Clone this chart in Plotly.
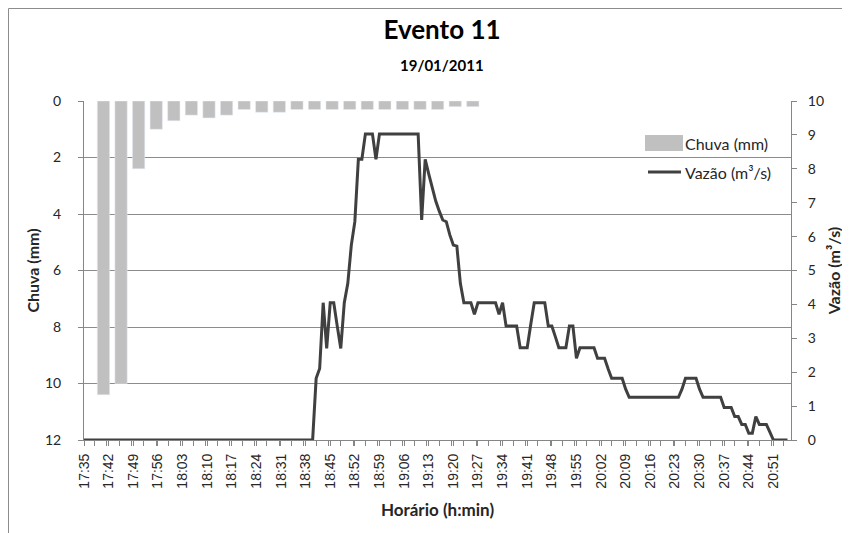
"""Evento 11 - chuva e vazão (19/01/2011)."""

import pandas as pd
import plotly.graph_objects as go

DAY = "2011-01-19"

# chuva em intervalos de 5 minutos (mm)
RAIN_TIMES = [
    "17:40", "17:45", "17:50", "17:55", "18:00", "18:05", "18:10", "18:15",
    "18:20", "18:25", "18:30", "18:35", "18:40", "18:45", "18:50", "18:55",
    "19:00", "19:05", "19:10", "19:15", "19:20", "19:25",
]
RAIN_MM = [
    10.4, 10.0, 2.4, 1.0, 0.7, 0.5, 0.6, 0.5, 0.3, 0.4, 0.4,
    0.3, 0.3, 0.3, 0.3, 0.3, 0.3, 0.3, 0.3, 0.3, 0.2, 0.2,
]

# vazão minuto a minuto a partir de 17:35 (m³/s)
FLOW_START = "17:35"
FLOW_M3S = [
    # 17:35 - 18:40
    0, 0, 0, 0, 0, 0, 0, 0, 0, 0, 0, 0, 0, 0, 0, 0, 0, 0, 0, 0, 0, 0,
    0, 0, 0, 0, 0, 0, 0, 0, 0, 0, 0, 0, 0, 0, 0, 0, 0, 0, 0, 0, 0, 0,
    0, 0, 0, 0, 0, 0, 0, 0, 0, 0, 0, 0, 0, 0, 0, 0, 0, 0, 0, 0, 0, 0,
    # 18:41 -
    1.82, 2.11, 4.05, 2.70, 4.05, 4.05, 3.36, 2.70, 4.05, 4.62,
    5.75, 6.44, 8.28, 8.28, 9.03, 9.03, 9.03, 8.28, 9.03, 9.03,
    9.03, 9.03, 9.03, 9.03, 9.03, 9.03, 9.03, 9.03, 9.03, 9.03,
    6.49, 8.28, 7.85, 7.45, 7.05, 6.75, 6.49, 6.44, 6.05, 5.75,
    5.72, 4.62, 4.05, 4.05, 4.05, 3.71, 4.05, 4.05, 4.05, 4.05,
    4.05, 4.05, 3.71, 4.05, 3.36, 3.36, 3.36, 3.36, 2.72, 2.72,
    2.72, 3.40, 4.05, 4.05, 4.05, 4.05, 3.36, 3.36, 3.05, 2.72,
    2.72, 2.72, 3.36, 3.36, 2.41, 2.72, 2.72, 2.72, 2.72, 2.72,
    2.41, 2.41, 2.41, 2.10, 1.82, 1.82, 1.82, 1.82, 1.50, 1.26,
    1.26, 1.26, 1.26, 1.26, 1.26, 1.26, 1.26, 1.26, 1.26, 1.26,
    1.26, 1.26, 1.26, 1.26, 1.50, 1.82, 1.82, 1.82, 1.82, 1.50,
    1.26, 1.26, 1.26, 1.26, 1.26, 1.26, 0.96, 0.96, 0.96, 0.69,
    0.69, 0.46, 0.46, 0.20, 0.20, 0.69, 0.46, 0.46, 0.46, 0.23,
    0, 0, 0, 0, 0,
]

FONT = "Lato, 'Noto Sans', sans-serif"
AXIS_GRAY = "#868686"
TEXT = "#262626"

# a página tem margem de 8 px; a figura começa em (8, 8)
W, H = 842, 525

rain_x = [f"{DAY} {t}" for t in RAIN_TIMES]
flow_x = pd.date_range(f"{DAY} {FLOW_START}", periods=len(FLOW_M3S), freq="min")

fig = go.Figure()
fig.add_bar(
    x=rain_x,
    y=RAIN_MM,
    name="Chuva (mm)",
    marker_color="#c0c0c0",
    width=210000,
    offset=-73000,
    showlegend=False,
)
fig.add_scatter(
    x=flow_x,
    y=FLOW_M3S,
    name="Vazão (m³/s)",
    yaxis="y2",
    mode="lines",
    line={"color": "#404040", "width": 3},
    showlegend=False,
)

fig.update_layout(
    width=W,
    height=H,
    margin={"l": 76, "r": 59, "t": 93, "b": 93},
    paper_bgcolor="white",
    plot_bgcolor="white",
    font={"family": FONT, "color": TEXT, "size": 13},
    title={
        "text": "<b>Evento 11</b>",
        "font": {"size": 26, "color": "black"},
        "x": 434 / W,
        "xanchor": "center",
        "y": 1 - 22 / H,
        "yanchor": "middle",
    },
    xaxis={
        "type": "date",
        "range": [f"{DAY} 17:35", f"{DAY} 20:56"],
        "tick0": f"{DAY} 17:35",
        "dtick": 420000,
        "tickformat": "%H:%M",
        "tickangle": -90,
        "tickfont": {"family": "'Liberation Sans', Arial, sans-serif", "size": 14},
        "ticks": "outside",
        "ticklen": 5,
        "tickcolor": AXIS_GRAY,
        "ticklabelstandoff": 2,
        "minor": {"dtick": 210000, "ticks": "outside", "ticklen": 5,
                  "tickcolor": AXIS_GRAY, "showgrid": False},
        "showline": True,
        "linecolor": AXIS_GRAY,
        "showgrid": False,
        "automargin": False,
        "title": {"text": "<b>Horário (h:min)</b>", "font": {"size": 17},
                  "standoff": 16},
    },
    yaxis={
        "range": [12, 0],
        "dtick": 2,
        "ticks": "outside",
        "ticklen": 5,
        "tickcolor": AXIS_GRAY,
        "ticklabelstandoff": 14,
        "tickfont": {"size": 14},
        "showline": True,
        "linecolor": AXIS_GRAY,
        "showgrid": True,
        "gridcolor": "#8c8c8c",
        "zeroline": False,
        "automargin": False,
        "title": {"text": "<b>Chuva (mm)</b>", "font": {"size": 16}, "standoff": 1},
    },
    yaxis2={
        "overlaying": "y",
        "side": "right",
        "range": [0, 10],
        "dtick": 1,
        "ticks": "outside",
        "ticklen": 5,
        "tickcolor": AXIS_GRAY,
        "ticklabelstandoff": 8,
        "tickfont": {"size": 14},
        "showline": True,
        "linecolor": AXIS_GRAY,
        "showgrid": False,
        "zeroline": False,
        "automargin": False,
        "title": {"text": "<b>Vazão (m³/s)</b>", "font": {"size": 16}, "standoff": 5},
    },
)


def px_x(px):
    # posição em pixels da página -> coordenada paper
    return (px - 84) / 707


def px_y(py):
    return (440 - py) / 339


# subtítulo
fig.add_annotation(
    text="<b>19/01/2011</b>", x=px_x(442), y=px_y(65), xref="paper", yref="paper",
    xanchor="center", yanchor="middle", showarrow=False,
    font={"size": 15, "color": "black"},
)

# legenda no estilo do Excel
fig.add_shape(type="rect", xref="paper", yref="paper",
              x0=px_x(645), x1=px_x(683), y0=px_y(151), y1=px_y(135),
              fillcolor="#c0c0c0", line_width=0)
fig.add_shape(type="line", xref="paper", yref="paper",
              x0=px_x(648), x1=px_x(681), y0=px_y(172), y1=px_y(172),
              line={"color": "#404040", "width": 3})
for label, py in [("Chuva (mm)", 143), ("Vazão (m³/s)", 172)]:
    fig.add_annotation(text=label, x=px_x(683), y=px_y(py), xref="paper",
                       yref="paper", xanchor="left", yanchor="middle",
                       showarrow=False, font={"size": 16, "color": TEXT})

# borda do gráfico (esquerda e topo)
fig.add_shape(type="line", xref="paper", yref="paper",
              x0=px_x(8.5), x1=px_x(8.5), y0=px_y(8.5), y1=px_y(540),
              line={"color": "#8c8c8c", "width": 1})
fig.add_shape(type="line", xref="paper", yref="paper",
              x0=px_x(8.5), x1=px_x(860), y0=px_y(8.5), y1=px_y(8.5),
              line={"color": "#8c8c8c", "width": 1})

fig.write_html("out.html")
